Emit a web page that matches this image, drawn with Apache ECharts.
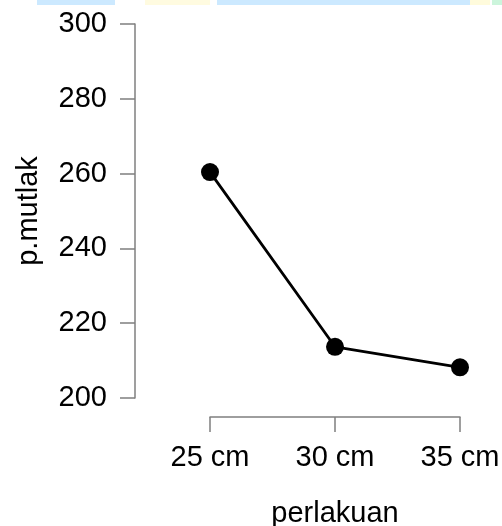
<!DOCTYPE html>
<html>
<head>
<meta charset="utf-8">
<script src="https://cdn.jsdelivr.net/npm/echarts@6/dist/echarts.min.js"></script>
<style>
  html, body { margin: 0; padding: 0; background: #fff; }
  #chart { width: 502px; height: 526px; }
</style>
</head>
<body>
<div id="chart"></div>
<script>
const categories = ['25 cm', '30 cm', '35 cm']
const pMutlak = [260.4, 213.7, 208.2]
const yTicks = [200, 220, 240, 260, 280, 300]

const chart = echarts.init(document.getElementById('chart'))
const font = 'Liberation Sans, Arial, sans-serif'
const axisGray = '#7f7f7f'
const fs = 29

chart.setOption({
  animation: false,
  backgroundColor: '#fff',
  textStyle: { fontFamily: font },
  // scanned page strip at the very top
  graphic: [
    { type: 'rect', shape: { x: 37, y: 0, width: 78, height: 5 }, style: { fill: '#cce9ff' } },
    { type: 'rect', shape: { x: 145, y: 0, width: 65, height: 5 }, style: { fill: '#fffbe0' } },
    { type: 'rect', shape: { x: 217, y: 0, width: 470 - 217, height: 5 }, style: { fill: '#cce9ff' } },
    { type: 'rect', shape: { x: 470, y: 0, width: 20, height: 5 }, style: { fill: '#fffbdc' } },
    { type: 'rect', shape: { x: 492, y: 0, width: 10, height: 5 }, style: { fill: '#ccf5dc' } }
  ],
  grid: [
    { left: 135, right: 42, top: 24, height: 374, outerBoundsMode: 'none' },
    { left: 210, right: 42, top: 24, height: 374, outerBoundsMode: 'none' }
  ],
  xAxis: [
    { gridIndex: 0, type: 'value', show: false },
    {
      gridIndex: 1,
      type: 'category',
      data: categories,
      boundaryGap: false,
      offset: 19,
      name: 'perlakuan',
      nameLocation: 'middle',
      nameGap: 82,
      nameTextStyle: { fontSize: fs, color: '#000', fontFamily: font },
      axisLine: { lineStyle: { color: axisGray, width: 1.5 } },
      axisTick: { length: 15, lineStyle: { color: axisGray, width: 1.5 } },
      axisLabel: { fontSize: fs, color: '#000', margin: 26, fontFamily: font },
      splitLine: { show: false }
    }
  ],
  yAxis: [
    {
      gridIndex: 0,
      type: 'value',
      min: 200,
      max: 300,
      interval: 20,
      name: 'p.mutlak',
      nameLocation: 'middle',
      nameGap: 92,
      nameTextStyle: { fontSize: fs, color: '#000', fontFamily: font },
      axisLine: { show: true, lineStyle: { color: axisGray, width: 1.5 } },
      axisTick: { show: true, length: 15, lineStyle: { color: axisGray, width: 1.5 } },
      axisLabel: {
        fontSize: fs, color: '#000', margin: 28, fontFamily: font,
        formatter: v => (yTicks.includes(v) ? String(v) : '')
      },
      splitLine: { show: false }
    },
    { gridIndex: 1, type: 'value', min: 200, max: 300, show: false }
  ],
  series: [
    {
      type: 'line',
      xAxisIndex: 1,
      yAxisIndex: 1,
      data: pMutlak,
      symbol: 'circle',
      symbolSize: 18,
      lineStyle: { color: '#000', width: 2.8 },
      itemStyle: { color: '#000' }
    }
  ]
})
</script>
</body>
</html>
